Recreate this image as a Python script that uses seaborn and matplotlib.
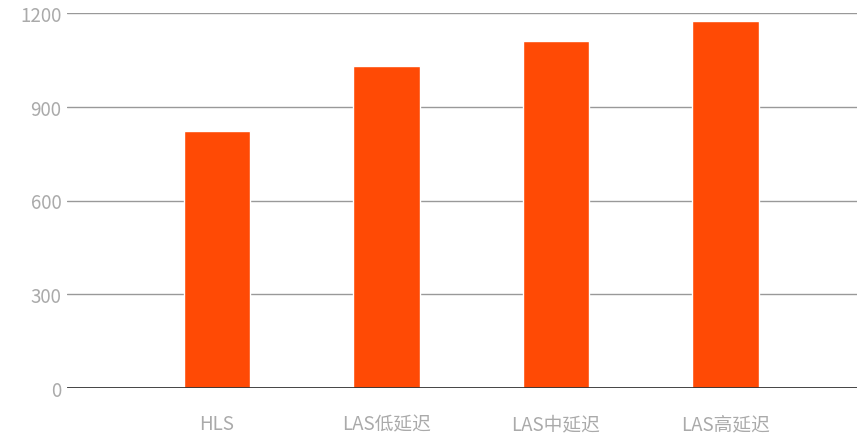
import matplotlib
matplotlib.use("Agg")
import matplotlib.pyplot as plt
import seaborn as sns
import pandas as pd

categories = ["HLS", "LAS低延迟", "LAS中延迟", "LAS高延迟"]
values = [824, 1030, 1110, 1174]
yticks = [0, 300, 600, 900, 1200]

sns.set_theme(style="white")
plt.rcParams['font.family'] = ['Noto Sans CJK SC', 'DejaVu Sans']

df = pd.DataFrame({"cat": categories, "val": values})

fig = plt.figure(figsize=(8.57, 4.35), dpi=100)
ax = fig.add_axes([67/857, 46/435, 790/857, 375/435])

sns.barplot(data=df, x="cat", y="val", color="#FF4A05", width=0.39,
            saturation=1, ax=ax, zorder=3)

ax.set_ylim(0, 1200)
ax.set_xlim(-0.885, 3.776)
ax.set_yticks(yticks)
ax.set_yticklabels([str(t) for t in yticks])
for t in yticks[1:]:
    ax.axhline(t, color="#999999", linewidth=1, zorder=1)
ax.axhline(0, color="#333333", linewidth=2, zorder=4)

for s in ax.spines.values():
    s.set_visible(False)
ax.set_xlabel("")
ax.set_ylabel("")
ax.tick_params(axis="both", length=0, labelsize=13.5, labelcolor="#aaaaaa")
ax.tick_params(axis="y", pad=4)
ax.tick_params(axis="x", pad=18)
for lbl in ax.get_xticklabels() + ax.get_yticklabels():
    lbl.set_fontweight("light")

fig.savefig("out.png", dpi=100)
